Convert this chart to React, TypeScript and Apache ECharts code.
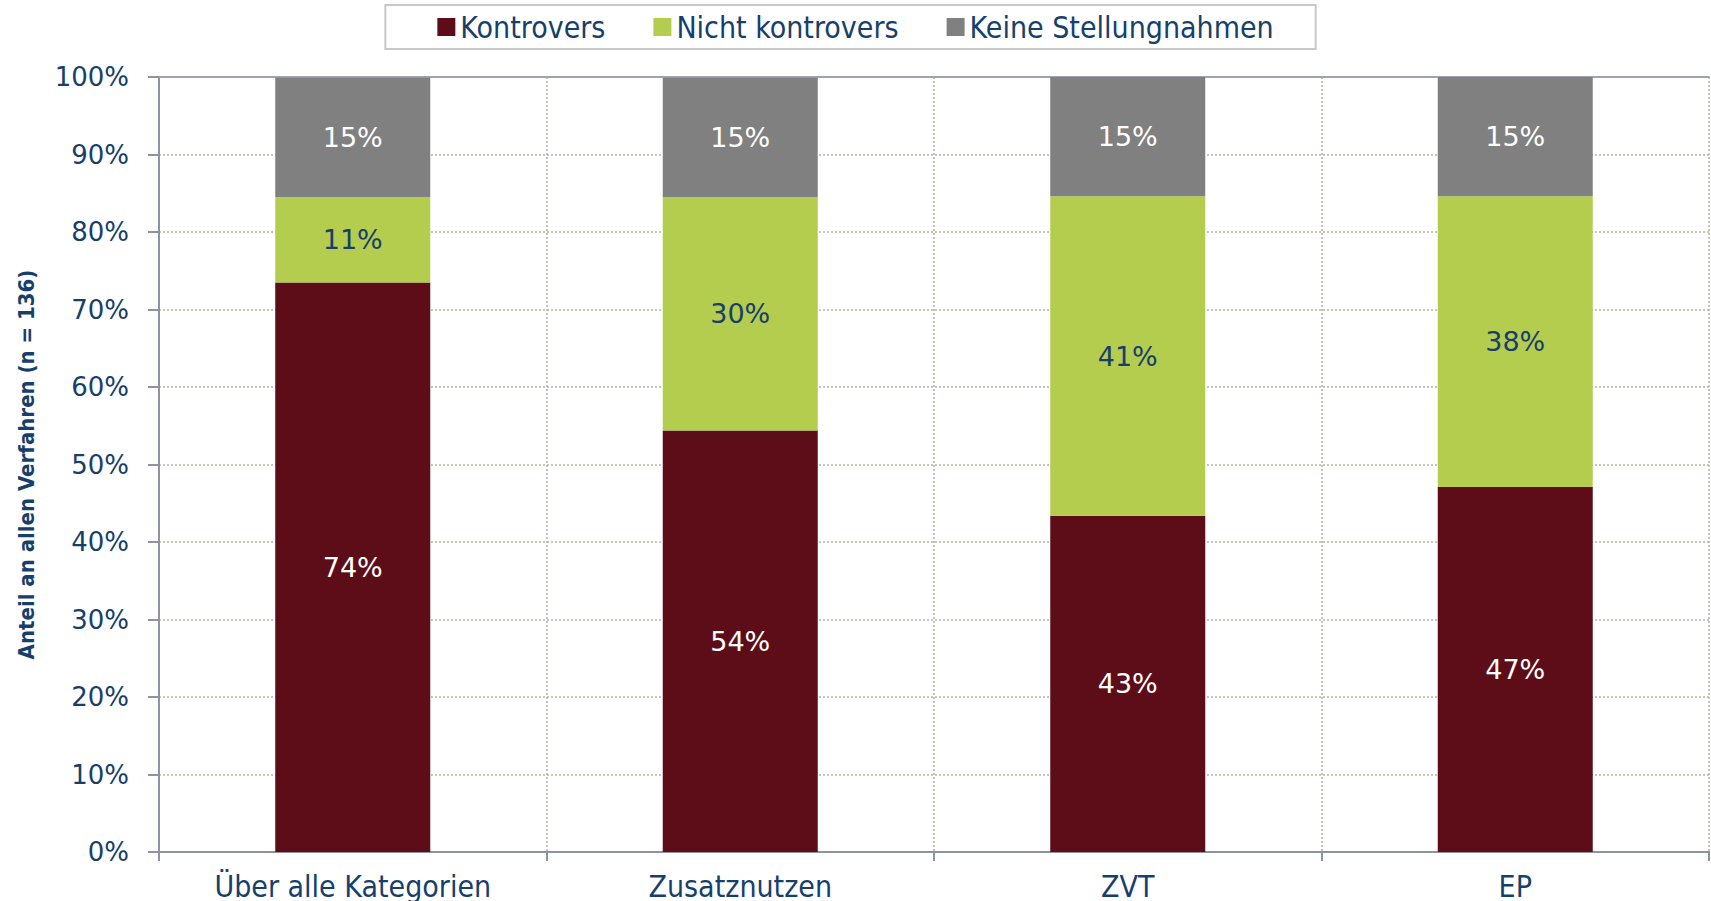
import React, { useEffect, useRef } from "react";
import * as echarts from "echarts";

const categories = ["Über alle Kategorien", "Zusatznutzen", "ZVT", "EP"];
const kontrovers = [73.5, 54.4, 43.4, 47.1];
const nichtKontrovers = [11.0, 30.1, 41.2, 37.5];
const keineStellungnahmen = [15.4, 15.4, 15.4, 15.4];
const seriesNames = ["Kontrovers", "Nicht kontrovers", "Keine Stellungnahmen"];
const yTitle = "Anteil an allen Verfahren (n = 136)";

const NAVY = "#173f6b";
const NARROW = '"Liberation Sans Narrow", "DejaVu Sans Condensed", "Roboto", sans-serif';
const VERD = '"DejaVu Sans", Verdana, sans-serif';

export default function App() {
  const ref = useRef<HTMLDivElement>(null);
  useEffect(() => {
    if (!ref.current) return;
    const chart = echarts.init(ref.current, null, { renderer: "svg" });
    const label = (color: string) => ({
      show: true,
      position: "inside",
      color,
      fontFamily: VERD,
      fontSize: 27,
      formatter: (p: any) => Math.round(p.value) + "%",
    });
    chart.setOption({
      animation: false,
      backgroundColor: "#ffffff",
      legend: {
        data: seriesNames,
        left: "center",
        top: 5,
        icon: "rect",
        itemWidth: 18,
        itemHeight: 18,
        itemGap: 48,
        padding: [7, 42, 7, 52],
        borderColor: "#c8c8c8",
        borderWidth: 2,
        textStyle: { color: NAVY, fontFamily: NARROW, fontSize: 30 },
      },
      grid: { left: 159, right: 2, top: 77, bottom: 49 },
      xAxis: [
        {
          type: "category",
          data: categories,
          axisLine: { lineStyle: { color: "#8d93a3", width: 2 } },
          axisTick: { show: true, length: 9, lineStyle: { color: "#8d93a3", width: 2 } },
          axisLabel: { color: NAVY, fontFamily: NARROW, fontSize: 30, margin: 19 },
          splitLine: { show: true, lineStyle: { color: "#b8b0a4", type: [2, 2], width: 1.5 } },
        },
        {
          type: "category",
          position: "top",
          data: categories,
          axisLine: { show: true, lineStyle: { color: "#9ea3b0", width: 2 } },
          axisTick: { show: false },
          axisLabel: { show: false },
          splitLine: { show: false },
        },
      ],
      yAxis: {
        type: "value",
        min: 0,
        max: 100,
        interval: 10,
        name: yTitle,
        nameLocation: "middle",
        nameRotate: 90,
        nameGap: 122,
        nameTextStyle: { color: NAVY, fontFamily: NARROW, fontSize: 22, fontWeight: "bold" },
        axisLine: { show: true, lineStyle: { color: "#8d93a3", width: 2 } },
        axisTick: { show: true, length: 11, lineStyle: { color: "#8d93a3", width: 2 } },
        axisLabel: { color: NAVY, fontFamily: VERD, fontSize: 26, margin: 30, formatter: "{value}%" },
        splitLine: { show: true, lineStyle: { color: "#b8b0a4", type: [2, 2], width: 1.5 } },
      },
      series: [
        {
          name: seriesNames[0],
          type: "bar",
          stack: "s",
          data: kontrovers,
          barCategoryGap: "60%",
          itemStyle: { color: "#5c0d17" },
          label: label("#ffffff"),
        },
        {
          name: seriesNames[1],
          type: "bar",
          stack: "s",
          data: nichtKontrovers,
          barCategoryGap: "60%",
          itemStyle: { color: "#b4cd4f" },
          label: label(NAVY),
        },
        {
          name: seriesNames[2],
          type: "bar",
          stack: "s",
          data: keineStellungnahmen,
          barCategoryGap: "60%",
          itemStyle: { color: "#808080" },
          label: label("#ffffff"),
        },
      ],
    });
    return () => chart.dispose();
  }, []);
  return (
    <div
      ref={ref}
      style={{ position: "fixed", left: 0, top: 0, width: 1711, height: 901, background: "#fff" }}
    />
  );
}
